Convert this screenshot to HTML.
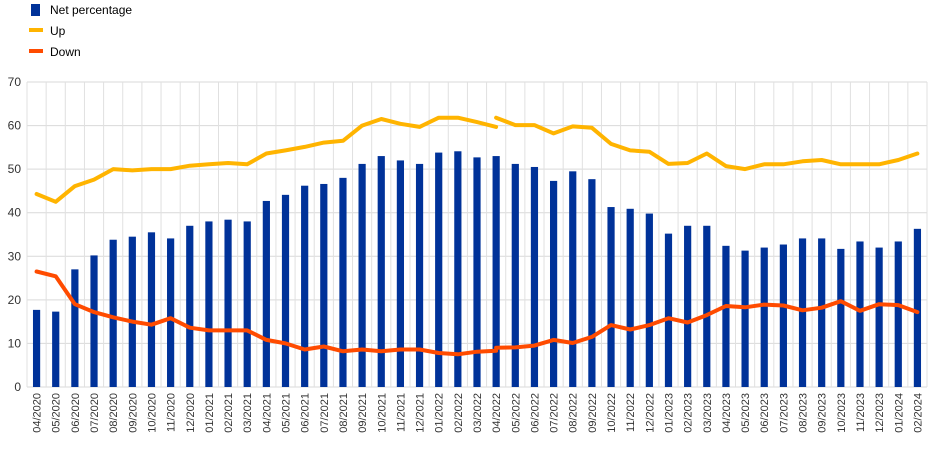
<!DOCTYPE html>
<html><head><meta charset="utf-8"><style>
body{margin:0;background:#fff;font-family:"Liberation Sans",Arial,sans-serif}
svg text{font-family:"Liberation Sans",Arial,sans-serif}
</style></head><body>
<svg id="c" width="942" height="450">
<g>
<rect x="31" y="4" width="9" height="12" fill="#003299"/>
<text x="50" y="14" font-size="12" fill="#000">Net percentage</text>
<line x1="29" y1="30" x2="43" y2="30" stroke="#FFB400" stroke-width="4"/>
<text x="50" y="35" font-size="12" fill="#000">Up</text>
<line x1="29" y1="51" x2="43" y2="51" stroke="#FF4B00" stroke-width="4"/>
<text x="50" y="56" font-size="12" fill="#000">Down</text>
</g>
</svg>
<script>
const categories=["04/2020","05/2020","06/2020","07/2020","08/2020","09/2020","10/2020","11/2020","12/2020","01/2021","02/2021","03/2021","04/2021","05/2021","06/2021","07/2021","08/2021","09/2021","10/2021","11/2021","12/2021","01/2022","02/2022","03/2022","04/2022","05/2022","06/2022","07/2022","08/2022","09/2022","10/2022","11/2022","12/2022","01/2023","02/2023","03/2023","04/2023","05/2023","06/2023","07/2023","08/2023","09/2023","10/2023","11/2023","12/2023","01/2024","02/2024"];
const netValues=[17.7,17.3,27,30.2,33.8,34.5,35.5,34.1,37,38,38.4,38,42.7,44.1,46.2,46.6,48,51.2,53,52,51.2,53.8,54.1,52.7,53,51.2,50.5,47.3,49.5,47.7,41.3,40.9,39.8,35.2,37,37,32.4,31.3,32,32.7,34.1,34.1,31.7,33.4,32,33.4,36.3];
const upOld=[44.3,42.5,46.1,47.6,50,49.7,50,50,50.8,51.1,51.4,51.1,53.6,54.3,55.1,56.1,56.5,60,61.5,60.4,59.7,61.8,61.8,60.8,59.7];
const upNew=[61.8,60.1,60.1,58.2,59.8,59.5,55.8,54.3,54,51.2,51.4,53.6,50.7,50,51.1,51.1,51.8,52.1,51.1,51.1,51.1,52.1,53.6];
const downOld=[26.5,25.4,19,17.2,16,15,14.3,15.8,13.6,13,13,13,10.8,10,8.6,9.3,8.2,8.6,8.2,8.6,8.6,7.8,7.5,8.1,8.3];
const downNew=[9,9.1,9.5,10.8,10.1,11.5,14.2,13.2,14.2,15.8,14.8,16.5,18.6,18.3,18.9,18.7,17.6,18.2,19.7,17.5,19,18.8,17.2];
const yTicks=[0,10,20,30,40,50,60,70];
const newStart=24;
const svg=document.getElementById('c');const NS='http://www.w3.org/2000/svg';
const L=27,R=927,T=82,B=387,yMax=70;
const bw=(R-L)/categories.length;
const xc=i=>L+bw*(i+0.5);
const y=v=>B-(v/yMax)*(B-T);
function mk(t,a){const e=document.createElementNS(NS,t);for(const k in a)e.setAttribute(k,a[k]);svg.appendChild(e);return e;}
yTicks.forEach(v=>{const g=mk('line',{x1:L,x2:R,y1:y(v),y2:y(v),stroke:'#d9d9d9','stroke-width':1});


const t=mk('text',{x:21,y:y(v)+4,'font-size':12,'text-anchor':'end',fill:'#333'});t.textContent=v;

});
for(let i=0;i<=categories.length;i++){const g=mk('line',{x1:L+bw*i,x2:L+bw*i,y1:T,y2:B,stroke:'#e0e0e0','stroke-width':1});

}
netValues.forEach((v,i)=>{const r=mk('rect',{x:xc(i)-3.6,y:y(v),width:7.2,height:B-y(v),fill:'#003299'});

});
function line(vals,off,col,name){const p=vals.map((v,i)=>xc(i+off).toFixed(1)+','+y(v).toFixed(1)).join(' ');
const e=mk('polyline',{points:p,fill:'none',stroke:col,'stroke-width':4,'stroke-linejoin':'round','stroke-linecap':'round'});

}
line(upOld,0,'#FFB400','line-up-old');line(upNew,newStart,'#FFB400','line-up-new');
line(downOld,0,'#FF4B00','line-down-old');line(downNew,newStart,'#FF4B00','line-down-new');
categories.forEach((c,i)=>{const t=mk('text',{x:0,y:0,'font-size':11,'text-anchor':'end',fill:'#333',transform:`translate(${xc(i)+4},393) rotate(-90)`});t.textContent=c;

});
</script>
</body></html>
